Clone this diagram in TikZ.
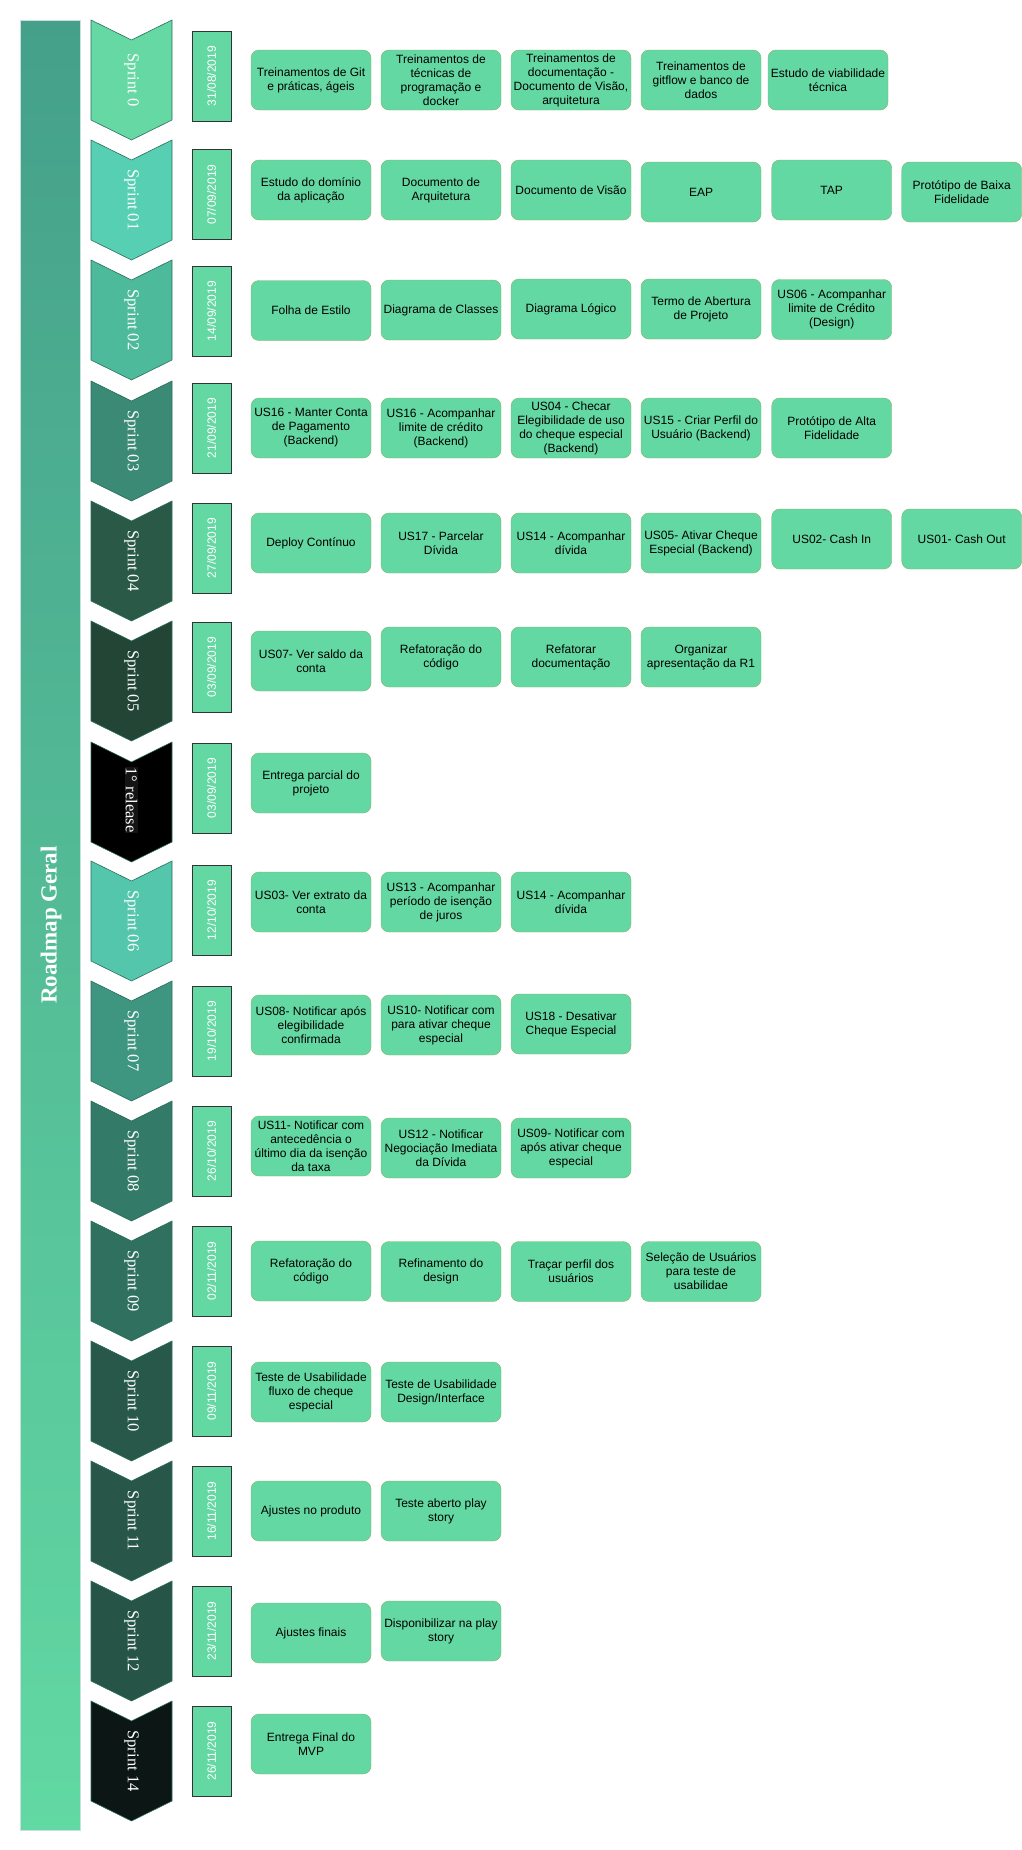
\documentclass[tikz,border=0pt]{standalone}
\usepackage{fontspec}
\setmainfont{Liberation Serif}
\setsansfont{Liberation Sans}
\definecolor{taskfill}{HTML}{64D8A3}
\definecolor{taskline}{HTML}{82B366}
\definecolor{dateline}{HTML}{333333}
\definecolor{chevline}{HTML}{2B6E5C}
\definecolor{bartop}{HTML}{45A08A}
\definecolor{barbottom}{HTML}{62D8A3}
\definecolor{sp00}{HTML}{65D8A3}
\definecolor{sp01}{HTML}{56CFB3}
\definecolor{sp02}{HTML}{4DBB9B}
\definecolor{sp03}{HTML}{3A8A75}
\definecolor{sp04}{HTML}{2A5A47}
\definecolor{sp05}{HTML}{224536}
\definecolor{sp06}{HTML}{53C6AB}
\definecolor{sp07}{HTML}{3E9680}
\definecolor{sp08}{HTML}{347A68}
\definecolor{sp09}{HTML}{30705F}
\definecolor{sp10}{HTML}{27584A}
\definecolor{sp11}{HTML}{28574A}
\definecolor{sp12}{HTML}{265548}
\definecolor{sp14}{HTML}{0C1614}
\begin{document}
\begin{tikzpicture}[x=1pt, y=-1pt,
        task_box/.style={draw=taskline, fill=taskfill, rounded corners=8pt, minimum width=120pt, minimum height=60pt,
            inner sep=0pt, align=center, font=\sffamily\fontsize{12}{14}\selectfont},
        date_box/.style={draw=dateline, fill=taskfill, line width=0.9pt, rotate=90, minimum width=90pt, minimum height=39pt,
            inner sep=0pt, text=white, font=\sffamily\fontsize{12}{14}\selectfont},
        sprint_label/.style={rotate=-90, text=white, inner sep=1pt, font=\fontsize{16.5}{18}\selectfont},
        chevron/.style={draw=chevline, line width=0.6pt}
    ]
    \useasboundingbox (0,0) rectangle (1022,1850);

    % --- Barra laterale ---
    \shade[top color=bartop, bottom color=barbottom, draw=white!70!bartop, line width=0.5pt] (20,20) rectangle (80,1830);
    \node[rotate=90, text=white, font=\bfseries\fontsize{23}{26}\selectfont] (titolo) at (51,925) {Roadmap Geral};

    % --- Sprint 0 ---
    \begin{scope}[shift={(0,20)}]
        \draw[chevron, fill=sp00] (91,0) -- (131.5,20) -- (172,0) -- (172,100) -- (131.5,120) -- (91,100) -- cycle;
        \node[sprint_label] (s0) at (131.5,60) {Sprint 0};
        \node[date_box] (d0) at (211.5,56) {31/08/2019};
        \node[task_box] (t0a) at (311,60) {Treinamentos de Git\\e práticas, ágeis};
        \node[task_box] (t0b) at (441,60) {Treinamentos de\\técnicas de\\programação e\\docker};
        \node[task_box] (t0c) at (571,60) {Treinamentos de\\documentação -\\Documento de Visão,\\arquitetura};
        \node[task_box] (t0d) at (701,60) {Treinamentos de\\gitflow e banco de\\dados};
        \node[task_box] (t0e) at (828,60) {Estudo de viabilidade\\técnica};
    \end{scope}

    % --- Sprint 01 ---
    \begin{scope}[shift={(0,140)}]
        \draw[chevron, fill=sp01] (91,0) -- (131.5,20) -- (172,0) -- (172,100) -- (131.5,120) -- (91,100) -- cycle;
        \node[sprint_label] (s1) at (131.5,60) {Sprint 01};
        \node[date_box] (d1) at (211.5,54.5) {07/09/2019};
        \node[task_box] (t1a) at (311,50) {Estudo do domínio\\da aplicação};
        \node[task_box] (t1b) at (441,50) {Documento de\\Arquitetura};
        \node[task_box] (t1c) at (571,50) {Documento de Visão};
        \node[task_box] (t1d) at (701,52) {EAP};
        \node[task_box] (t1e) at (831.7,50) {TAP};
        \node[task_box] (t1f) at (961.7,52) {Protótipo de Baixa\\Fidelidade};
    \end{scope}

    % --- Sprint 02 ---
    \begin{scope}[shift={(0,260)}]
        \draw[chevron, fill=sp02] (91,0) -- (131.5,20) -- (172,0) -- (172,100) -- (131.5,120) -- (91,100) -- cycle;
        \node[sprint_label] (s2) at (131.5,60) {Sprint 02};
        \node[date_box] (d2) at (211.5,51) {14/09/2019};
        \node[task_box] (t2a) at (311,50.5) {Folha de Estilo};
        \node[task_box] (t2b) at (441,50) {Diagrama de Classes};
        \node[task_box] (t2c) at (571,49) {Diagrama Lógico};
        \node[task_box] (t2d) at (701,49) {Termo de Abertura\\de Projeto};
        \node[task_box] (t2e) at (831.7,49.5) {US06 - Acompanhar\\limite de Crédito\\(Design)};
    \end{scope}

    % --- Sprint 03 ---
    \begin{scope}[shift={(0,381)}]
        \draw[chevron, fill=sp03] (91,0) -- (131.5,20) -- (172,0) -- (172,100) -- (131.5,120) -- (91,100) -- cycle;
        \node[sprint_label] (s3) at (131.5,60) {Sprint 03};
        \node[date_box] (d3) at (211.5,47) {21/09/2019};
        \node[task_box] (t3a) at (311,47) {US16 - Manter Conta\\de Pagamento\\(Backend)};
        \node[task_box] (t3b) at (441,47) {US16 - Acompanhar\\limite de crédito\\(Backend)};
        \node[task_box] (t3c) at (571,47) {US04 - Checar\\Elegibilidade de uso\\do cheque especial\\(Backend)};
        \node[task_box] (t3d) at (701,47) {US15 - Criar Perfil do\\Usuário (Backend)};
        \node[task_box] (t3e) at (831.7,47) {Protótipo de Alta\\Fidelidade};
    \end{scope}

    % --- Sprint 04 ---
    \begin{scope}[shift={(0,501)}]
        \draw[chevron, fill=sp04] (91,0) -- (131.5,20) -- (172,0) -- (172,100) -- (131.5,120) -- (91,100) -- cycle;
        \node[sprint_label] (s4) at (131.5,60) {Sprint 04};
        \node[date_box] (d4) at (211.5,47) {27/09/2019};
        \node[task_box] (t4a) at (311,42) {Deploy Contínuo};
        \node[task_box] (t4b) at (441,42) {US17 - Parcelar\\Dívida};
        \node[task_box] (t4c) at (571,42) {US14 - Acompanhar\\dívida};
        \node[task_box] (t4d) at (701,42) {US05- Ativar Cheque\\Especial (Backend)};
        \node[task_box] (t4e) at (831.7,38) {US02- Cash In};
        \node[task_box] (t4f) at (961.7,38) {US01- Cash Out};
    \end{scope}

    % --- Sprint 05 ---
    \begin{scope}[shift={(0,621)}]
        \draw[chevron, fill=sp05] (91,0) -- (131.5,20) -- (172,0) -- (172,100) -- (131.5,120) -- (91,100) -- cycle;
        \node[sprint_label] (s5) at (131.5,60) {Sprint 05};
        \node[date_box] (d5) at (211.5,46) {03/09/2019};
        \node[task_box] (t5a) at (311,40) {US07- Ver saldo da\\conta};
        \node[task_box] (t5b) at (441,36) {Refatoração do\\código};
        \node[task_box] (t5c) at (571,36) {Refatorar\\documentação};
        \node[task_box] (t5d) at (701,36) {Organizar\\apresentação da R1};
    \end{scope}

    % --- 1° release ---
    \begin{scope}[shift={(0,742)}]
        \draw[chevron, fill=black] (91,0) -- (131.5,20) -- (172,0) -- (172,100) -- (131.5,120) -- (91,100) -- cycle;
        \node[sprint_label, fill=black!92] (r1) at (131.5,58) {1° release};
        \node[date_box] (d6) at (211.5,46) {03/09/2019};
        \node[task_box] (t6a) at (311,41) {Entrega parcial do\\projeto};
    \end{scope}

    % --- Sprint 06 ---
    \begin{scope}[shift={(0,861)}]
        \draw[chevron, fill=sp06] (91,0) -- (131.5,20) -- (172,0) -- (172,100) -- (131.5,120) -- (91,100) -- cycle;
        \node[sprint_label] (s6) at (131.5,60) {Sprint 06};
        \node[date_box] (d7) at (211.5,49) {12/10/2019};
        \node[task_box] (t7a) at (311,41) {US03- Ver extrato da\\conta};
        \node[task_box] (t7b) at (441,41) {US13 - Acompanhar\\período de isenção\\de juros};
        \node[task_box] (t7c) at (571,41) {US14 - Acompanhar\\dívida};
    \end{scope}

    % --- Sprint 07 ---
    \begin{scope}[shift={(0,981)}]
        \draw[chevron, fill=sp07] (91,0) -- (131.5,20) -- (172,0) -- (172,100) -- (131.5,120) -- (91,100) -- cycle;
        \node[sprint_label] (s7) at (131.5,60) {Sprint 07};
        \node[date_box] (d8) at (211.5,50) {19/10/2019};
        \node[task_box] (t8a) at (311,44) {US08- Notificar após\\elegibilidade\\confirmada};
        \node[task_box] (t8b) at (441,44) {US10- Notificar com\\para ativar cheque\\especial};
        \node[task_box] (t8c) at (571,43) {US18 - Desativar\\Cheque Especial};
    \end{scope}

    % --- Sprint 08 ---
    \begin{scope}[shift={(0,1101)}]
        \draw[chevron, fill=sp08] (91,0) -- (131.5,20) -- (172,0) -- (172,100) -- (131.5,120) -- (91,100) -- cycle;
        \node[sprint_label] (s8) at (131.5,60) {Sprint 08};
        \node[date_box] (d9) at (211.5,50) {26/10/2019};
        \node[task_box] (t9a) at (311,45) {US11- Notificar com\\antecedência o\\último dia da isenção\\da taxa};
        \node[task_box] (t9b) at (441,47) {US12 - Notificar\\Negociação Imediata\\da Dívida};
        \node[task_box] (t9c) at (571,47) {US09- Notificar com\\após ativar cheque\\especial};
    \end{scope}

    % --- Sprint 09 ---
    \begin{scope}[shift={(0,1221)}]
        \draw[chevron, fill=sp09] (91,0) -- (131.5,20) -- (172,0) -- (172,100) -- (131.5,120) -- (91,100) -- cycle;
        \node[sprint_label] (s9) at (131.5,60) {Sprint 09};
        \node[date_box] (d10) at (211.5,50) {02/11/2019};
        \node[task_box] (t10a) at (311,50) {Refatoração do\\código};
        \node[task_box] (t10b) at (441,50.5) {Refinamento do\\design};
        \node[task_box] (t10c) at (571,50.5) {Traçar perfil dos\\usuários};
        \node[task_box] (t10d) at (701,50.5) {Seleção de Usuários\\para teste de\\usabilidae};
    \end{scope}

    % --- Sprint 10 ---
    \begin{scope}[shift={(0,1341)}]
        \draw[chevron, fill=sp10] (91,0) -- (131.5,20) -- (172,0) -- (172,100) -- (131.5,120) -- (91,100) -- cycle;
        \node[sprint_label] (s10) at (131.5,60) {Sprint 10};
        \node[date_box] (d11) at (211.5,50) {09/11/2019};
        \node[task_box] (t11a) at (311,51) {Teste de Usabilidade\\fluxo de cheque\\especial};
        \node[task_box] (t11b) at (441,51) {Teste de Usabilidade\\Design/Interface};
    \end{scope}

    % --- Sprint 11 ---
    \begin{scope}[shift={(0,1461)}]
        \draw[chevron, fill=sp11] (91,0) -- (131.5,20) -- (172,0) -- (172,100) -- (131.5,120) -- (91,100) -- cycle;
        \node[sprint_label] (s11) at (131.5,60) {Sprint 11};
        \node[date_box] (d12) at (211.5,50) {16/11/2019};
        \node[task_box] (t12a) at (311,50) {Ajustes no produto};
        \node[task_box] (t12b) at (441,50) {Teste aberto play\\story};
    \end{scope}

    % --- Sprint 12 ---
    \begin{scope}[shift={(0,1581)}]
        \draw[chevron, fill=sp12] (91,0) -- (131.5,20) -- (172,0) -- (172,100) -- (131.5,120) -- (91,100) -- cycle;
        \node[sprint_label] (s12) at (131.5,60) {Sprint 12};
        \node[date_box] (d13) at (211.5,50) {23/11/2019};
        \node[task_box] (t13a) at (311,52) {Ajustes finais};
        \node[task_box] (t13b) at (441,50) {Disponibilizar na play\\story};
    \end{scope}

    % --- Sprint 14 ---
    \begin{scope}[shift={(0,1701)}]
        \draw[chevron, fill=sp14] (91,0) -- (131.5,20) -- (172,0) -- (172,100) -- (131.5,120) -- (91,100) -- cycle;
        \node[sprint_label] (s14) at (131.5,60) {Sprint 14};
        \node[date_box] (d14) at (211.5,50) {26/11/2019};
        \node[task_box] (t14a) at (311,43) {Entrega Final do\\MVP};
    \end{scope}

\end{tikzpicture}
\end{document}
